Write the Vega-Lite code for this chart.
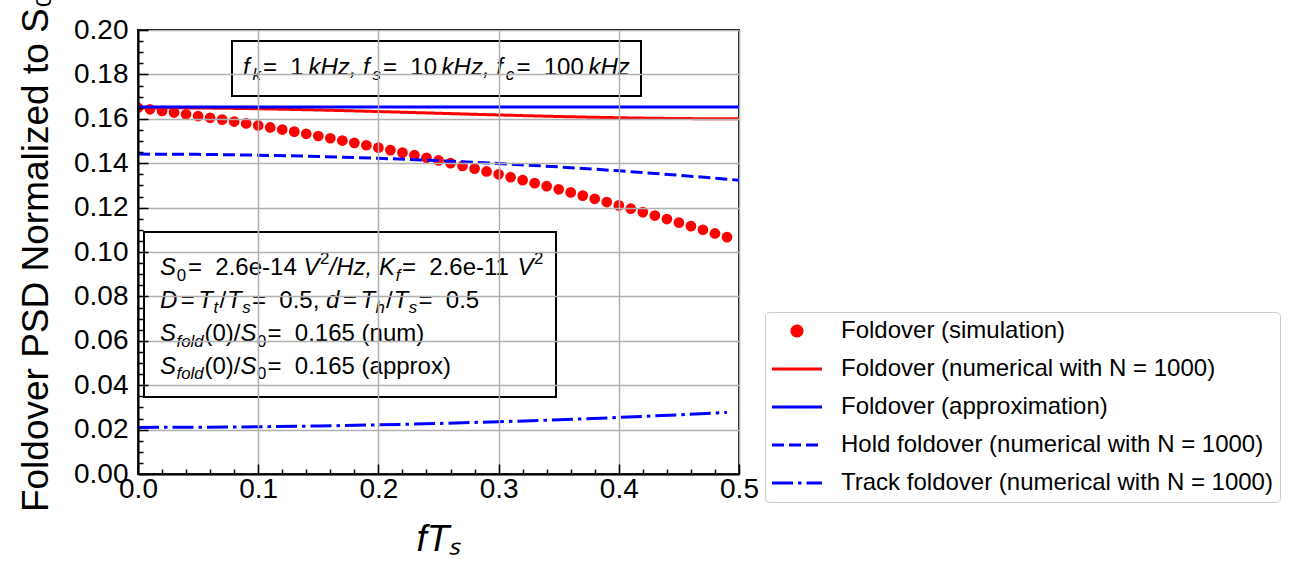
{
  "$schema": "https://vega.github.io/schema/vega-lite/v6.json",
  "width": 601,
  "height": 444,
  "autosize": {"type": "none"},
  "padding": {"left": 138, "top": 30, "right": 558, "bottom": 109},
  "background": "white",
  "config": {
    "font": "Liberation Sans",
    "view": {"stroke": "black", "strokeWidth": 2},
    "axis": {
      "labelFont": "Liberation Sans", "labelFontSize": 28, "labelColor": "black",
      "tickColor": "black", "tickWidth": 1.5, "tickSize": -10,
      "gridColor": "#b0b0b0", "gridWidth": 1.5,
      "domainColor": "black", "domainWidth": 2,
      "titleFont": "Liberation Sans", "titleFontSize": 37, "titleFontWeight": "normal", "titleColor": "black",
      "labelFlush": false, "labelOverlap": false
    },
    "legend": {
      "orient": "none", "legendX": 627, "legendY": 282,
      "labelFont": "Liberation Sans", "labelFontSize": 24, "labelColor": "black", "labelLimit": 600,
      "labelOffset": 45, "rowPadding": 14, "padding": 7,
      "fillColor": "white", "strokeColor": "#cccccc", "cornerRadius": 4,
      "symbolSize": 100, "symbolStrokeWidth": 3, "symbolOpacity": 1
    }
  },
  "datasets": {
    "one": [{}],
    "curves": [
      {"series": "Foldover (simulation)", "x": 0.00, "y": 0.16500}, {"series": "Foldover (simulation)", "x": 0.01, "y": 0.16429},
      {"series": "Foldover (simulation)", "x": 0.02, "y": 0.16356}, {"series": "Foldover (simulation)", "x": 0.03, "y": 0.16281},
      {"series": "Foldover (simulation)", "x": 0.04, "y": 0.16204}, {"series": "Foldover (simulation)", "x": 0.05, "y": 0.16125},
      {"series": "Foldover (simulation)", "x": 0.06, "y": 0.16044}, {"series": "Foldover (simulation)", "x": 0.07, "y": 0.15961},
      {"series": "Foldover (simulation)", "x": 0.08, "y": 0.15876}, {"series": "Foldover (simulation)", "x": 0.09, "y": 0.15789},
      {"series": "Foldover (simulation)", "x": 0.10, "y": 0.15700}, {"series": "Foldover (simulation)", "x": 0.11, "y": 0.15609},
      {"series": "Foldover (simulation)", "x": 0.12, "y": 0.15516}, {"series": "Foldover (simulation)", "x": 0.13, "y": 0.15421},
      {"series": "Foldover (simulation)", "x": 0.14, "y": 0.15324}, {"series": "Foldover (simulation)", "x": 0.15, "y": 0.15225},
      {"series": "Foldover (simulation)", "x": 0.16, "y": 0.15124}, {"series": "Foldover (simulation)", "x": 0.17, "y": 0.15021},
      {"series": "Foldover (simulation)", "x": 0.18, "y": 0.14916}, {"series": "Foldover (simulation)", "x": 0.19, "y": 0.14809},
      {"series": "Foldover (simulation)", "x": 0.20, "y": 0.14700}, {"series": "Foldover (simulation)", "x": 0.21, "y": 0.14589},
      {"series": "Foldover (simulation)", "x": 0.22, "y": 0.14476}, {"series": "Foldover (simulation)", "x": 0.23, "y": 0.14361},
      {"series": "Foldover (simulation)", "x": 0.24, "y": 0.14244}, {"series": "Foldover (simulation)", "x": 0.25, "y": 0.14125},
      {"series": "Foldover (simulation)", "x": 0.26, "y": 0.14004}, {"series": "Foldover (simulation)", "x": 0.27, "y": 0.13881},
      {"series": "Foldover (simulation)", "x": 0.28, "y": 0.13756}, {"series": "Foldover (simulation)", "x": 0.29, "y": 0.13629},
      {"series": "Foldover (simulation)", "x": 0.30, "y": 0.13500}, {"series": "Foldover (simulation)", "x": 0.31, "y": 0.13369},
      {"series": "Foldover (simulation)", "x": 0.32, "y": 0.13236}, {"series": "Foldover (simulation)", "x": 0.33, "y": 0.13101},
      {"series": "Foldover (simulation)", "x": 0.34, "y": 0.12964}, {"series": "Foldover (simulation)", "x": 0.35, "y": 0.12825},
      {"series": "Foldover (simulation)", "x": 0.36, "y": 0.12684}, {"series": "Foldover (simulation)", "x": 0.37, "y": 0.12541},
      {"series": "Foldover (simulation)", "x": 0.38, "y": 0.12396}, {"series": "Foldover (simulation)", "x": 0.39, "y": 0.12249},
      {"series": "Foldover (simulation)", "x": 0.40, "y": 0.12100}, {"series": "Foldover (simulation)", "x": 0.41, "y": 0.11949},
      {"series": "Foldover (simulation)", "x": 0.42, "y": 0.11796}, {"series": "Foldover (simulation)", "x": 0.43, "y": 0.11641},
      {"series": "Foldover (simulation)", "x": 0.44, "y": 0.11484}, {"series": "Foldover (simulation)", "x": 0.45, "y": 0.11325},
      {"series": "Foldover (simulation)", "x": 0.46, "y": 0.11164}, {"series": "Foldover (simulation)", "x": 0.47, "y": 0.11001},
      {"series": "Foldover (simulation)", "x": 0.48, "y": 0.10836}, {"series": "Foldover (simulation)", "x": 0.49, "y": 0.10669},
      {"series": "Foldover (numerical with N = 1000)", "x": 0.000, "y": 0.16500}, {"series": "Foldover (numerical with N = 1000)", "x": 0.025, "y": 0.16497},
      {"series": "Foldover (numerical with N = 1000)", "x": 0.050, "y": 0.16488}, {"series": "Foldover (numerical with N = 1000)", "x": 0.075, "y": 0.16473},
      {"series": "Foldover (numerical with N = 1000)", "x": 0.100, "y": 0.16452}, {"series": "Foldover (numerical with N = 1000)", "x": 0.125, "y": 0.16427},
      {"series": "Foldover (numerical with N = 1000)", "x": 0.150, "y": 0.16397}, {"series": "Foldover (numerical with N = 1000)", "x": 0.175, "y": 0.16364},
      {"series": "Foldover (numerical with N = 1000)", "x": 0.200, "y": 0.16327}, {"series": "Foldover (numerical with N = 1000)", "x": 0.225, "y": 0.16289},
      {"series": "Foldover (numerical with N = 1000)", "x": 0.250, "y": 0.16250}, {"series": "Foldover (numerical with N = 1000)", "x": 0.275, "y": 0.16211},
      {"series": "Foldover (numerical with N = 1000)", "x": 0.300, "y": 0.16173}, {"series": "Foldover (numerical with N = 1000)", "x": 0.325, "y": 0.16137},
      {"series": "Foldover (numerical with N = 1000)", "x": 0.350, "y": 0.16103}, {"series": "Foldover (numerical with N = 1000)", "x": 0.375, "y": 0.16073},
      {"series": "Foldover (numerical with N = 1000)", "x": 0.400, "y": 0.16048}, {"series": "Foldover (numerical with N = 1000)", "x": 0.425, "y": 0.16027},
      {"series": "Foldover (numerical with N = 1000)", "x": 0.450, "y": 0.16012}, {"series": "Foldover (numerical with N = 1000)", "x": 0.475, "y": 0.16003},
      {"series": "Foldover (numerical with N = 1000)", "x": 0.500, "y": 0.16000},
      {"series": "Foldover (approximation)", "x": 0.0, "y": 0.1653}, {"series": "Foldover (approximation)", "x": 0.5, "y": 0.1653},
      {"series": "Hold foldover (numerical with N = 1000)", "x": 0.00, "y": 0.14410}, {"series": "Hold foldover (numerical with N = 1000)", "x": 0.05, "y": 0.14398},
      {"series": "Hold foldover (numerical with N = 1000)", "x": 0.10, "y": 0.14363}, {"series": "Hold foldover (numerical with N = 1000)", "x": 0.15, "y": 0.14304},
      {"series": "Hold foldover (numerical with N = 1000)", "x": 0.20, "y": 0.14222}, {"series": "Hold foldover (numerical with N = 1000)", "x": 0.25, "y": 0.14116},
      {"series": "Hold foldover (numerical with N = 1000)", "x": 0.30, "y": 0.13987}, {"series": "Hold foldover (numerical with N = 1000)", "x": 0.35, "y": 0.13834},
      {"series": "Hold foldover (numerical with N = 1000)", "x": 0.40, "y": 0.13658}, {"series": "Hold foldover (numerical with N = 1000)", "x": 0.45, "y": 0.13458},
      {"series": "Hold foldover (numerical with N = 1000)", "x": 0.50, "y": 0.13235},
      {"series": "Track foldover (numerical with N = 1000)", "x": 0.00, "y": 0.02100}, {"series": "Track foldover (numerical with N = 1000)", "x": 0.05, "y": 0.02107},
      {"series": "Track foldover (numerical with N = 1000)", "x": 0.10, "y": 0.02128}, {"series": "Track foldover (numerical with N = 1000)", "x": 0.15, "y": 0.02163},
      {"series": "Track foldover (numerical with N = 1000)", "x": 0.20, "y": 0.02212}, {"series": "Track foldover (numerical with N = 1000)", "x": 0.25, "y": 0.02275},
      {"series": "Track foldover (numerical with N = 1000)", "x": 0.30, "y": 0.02352}, {"series": "Track foldover (numerical with N = 1000)", "x": 0.35, "y": 0.02443},
      {"series": "Track foldover (numerical with N = 1000)", "x": 0.40, "y": 0.02548}, {"series": "Track foldover (numerical with N = 1000)", "x": 0.45, "y": 0.02667},
      {"series": "Track foldover (numerical with N = 1000)", "x": 0.49, "y": 0.02772}
    ]
  },
  "layer": [
    {
      "data": {"name": "curves"},
      "transform": [{"filter": "datum.series === 'Foldover (simulation)'"}],
      "mark": {"type": "point", "shape": "circle", "size": 115, "filled": true, "opacity": 1, "clip": true},
      "encoding": {
        "x": {
          "field": "x", "type": "quantitative",
          "scale": {"domain": [0, 0.5], "nice": false, "zero": false},
          "axis": {
            "values": [0, 0.1, 0.2, 0.3, 0.4, 0.5], "format": ".1f", "labelPadding": 11,
            "title": "fTₛ", "titleFontStyle": "italic", "titleX": 300.5, "titleY": 76,
            "titleBaseline": "alphabetic", "titleAlign": "center", "zindex": 1
          }
        },
        "y": {
          "field": "y", "type": "quantitative",
          "scale": {"domain": [0, 0.2], "nice": false, "zero": false},
          "axis": {
            "values": [0, 0.02, 0.04, 0.06, 0.08, 0.1, 0.12, 0.14, 0.16, 0.18, 0.2],
            "format": ".2f", "labelPadding": 20,
            "title": "Foldover PSD Normalized to S₀", "titleX": -91, "titleY": 222, "titleAngle": -90,
            "titleBaseline": "alphabetic", "titleAlign": "center", "zindex": 1
          }
        },
        "color": {
          "field": "series", "type": "nominal",
          "scale": {
            "domain": ["Foldover (simulation)", "Foldover (numerical with N = 1000)", "Foldover (approximation)", "Hold foldover (numerical with N = 1000)", "Track foldover (numerical with N = 1000)"],
            "range": ["#ff0000", "#ff0000", "#0000ff", "#0000ff", "#0000ff"]
          },
          "legend": {"title": null}
        }
      }
    },
    {
      "data": {"name": "curves"},
      "transform": [{"filter": "datum.series !== 'Foldover (simulation)'"}],
      "mark": {"type": "line", "strokeWidth": 3, "clip": true},
      "encoding": {
        "x": {"field": "x", "type": "quantitative", "axis": null},
        "y": {"field": "y", "type": "quantitative", "axis": null},
        "color": {"field": "series", "type": "nominal", "legend": {"title": null}},
        "strokeDash": {
          "field": "series", "type": "nominal",
          "scale": {
            "domain": ["Foldover (simulation)", "Foldover (numerical with N = 1000)", "Foldover (approximation)", "Hold foldover (numerical with N = 1000)", "Track foldover (numerical with N = 1000)"],
            "range": [[1, 0], [1, 0], [1, 0], [12, 5], [21, 5, 3.5, 5]]
          },
          "legend": {"title": null}
        }
      }
    },
    {
      "data": {"name": "curves"},
      "transform": [{"filter": "datum.x < 0"}],
      "mark": {"type": "point", "filled": true, "size": 100},
      "encoding": {
        "x": {"field": "x", "type": "quantitative", "axis": null},
        "y": {"field": "y", "type": "quantitative", "axis": null},
        "color": {"field": "series", "type": "nominal", "legend": {"title": null}},
        "shape": {
          "field": "series", "type": "nominal",
          "scale": {
            "domain": ["Foldover (simulation)", "Foldover (numerical with N = 1000)", "Foldover (approximation)", "Hold foldover (numerical with N = 1000)", "Track foldover (numerical with N = 1000)"],
            "range": ["M1.6,0A1,1 0 1,1 3.6,0A1,1 0 1,1 1.6,0Z", "M-2.4,0L7.6,0", "M-2.4,0L7.6,0", "M-2.4,0L7.6,0", "M-2.4,0L7.6,0"]
          },
          "legend": {"title": null}
        }
      }
    },
    {
      "data": {"name": "one"},
      "mark": {"type": "rect", "fill": "white", "stroke": "black", "strokeWidth": 2},
      "encoding": {
        "x": {"datum": 0.0782, "type": "quantitative", "axis": null}, "x2": {"datum": 0.41847},
        "y": {"datum": 0.19505, "type": "quantitative", "axis": null}, "y2": {"datum": 0.17027}
      }
    },
    {
      "data": {"name": "one"},
      "mark": {"type": "rect", "fill": "white", "stroke": "black", "strokeWidth": 2},
      "encoding": {
        "x": {"datum": 0.00499, "type": "quantitative", "axis": null}, "x2": {"datum": 0.34775},
        "y": {"datum": 0.10901, "type": "quantitative", "axis": null}, "y2": {"datum": 0.03468}
      }
    },
    {"data": {"name": "one"}, "mark": {"type": "text", "text": "f", "align": "left", "baseline": "alphabetic", "fontSize": 24, "fontStyle": "italic", "color": "black"}, "encoding": {"x": {"datum": 0.08735, "type": "quantitative", "axis": null}, "y": {"datum": 0.17995, "type": "quantitative", "axis": null}}},
    {"data": {"name": "one"}, "mark": {"type": "text", "text": "k", "align": "left", "baseline": "alphabetic", "fontSize": 16.8, "fontStyle": "italic", "color": "black"}, "encoding": {"x": {"datum": 0.09526, "type": "quantitative", "axis": null}, "y": {"datum": 0.17770, "type": "quantitative", "axis": null}}},
    {"data": {"name": "one"}, "mark": {"type": "text", "text": "=\u00a0\u00a01", "align": "left", "baseline": "alphabetic", "fontSize": 24, "color": "black"}, "encoding": {"x": {"datum": 0.10399, "type": "quantitative", "axis": null}, "y": {"datum": 0.17995, "type": "quantitative", "axis": null}}},
    {"data": {"name": "one"}, "mark": {"type": "text", "text": "kHz,", "align": "left", "baseline": "alphabetic", "fontSize": 24, "fontStyle": "italic", "color": "black"}, "encoding": {"x": {"datum": 0.14176, "type": "quantitative", "axis": null}, "y": {"datum": 0.17995, "type": "quantitative", "axis": null}}},
    {"data": {"name": "one"}, "mark": {"type": "text", "text": "f", "align": "left", "baseline": "alphabetic", "fontSize": 24, "fontStyle": "italic", "color": "black"}, "encoding": {"x": {"datum": 0.18719, "type": "quantitative", "axis": null}, "y": {"datum": 0.17995, "type": "quantitative", "axis": null}}},
    {"data": {"name": "one"}, "mark": {"type": "text", "text": "s", "align": "left", "baseline": "alphabetic", "fontSize": 16.8, "fontStyle": "italic", "color": "black"}, "encoding": {"x": {"datum": 0.19509, "type": "quantitative", "axis": null}, "y": {"datum": 0.17770, "type": "quantitative", "axis": null}}},
    {"data": {"name": "one"}, "mark": {"type": "text", "text": "=\u00a0\u00a010", "align": "left", "baseline": "alphabetic", "fontSize": 24, "color": "black"}, "encoding": {"x": {"datum": 0.20382, "type": "quantitative", "axis": null}, "y": {"datum": 0.17995, "type": "quantitative", "axis": null}}},
    {"data": {"name": "one"}, "mark": {"type": "text", "text": "kHz,", "align": "left", "baseline": "alphabetic", "fontSize": 24, "fontStyle": "italic", "color": "black"}, "encoding": {"x": {"datum": 0.25258, "type": "quantitative", "axis": null}, "y": {"datum": 0.17995, "type": "quantitative", "axis": null}}},
    {"data": {"name": "one"}, "mark": {"type": "text", "text": "f", "align": "left", "baseline": "alphabetic", "fontSize": 24, "fontStyle": "italic", "color": "black"}, "encoding": {"x": {"datum": 0.29809, "type": "quantitative", "axis": null}, "y": {"datum": 0.17995, "type": "quantitative", "axis": null}}},
    {"data": {"name": "one"}, "mark": {"type": "text", "text": "c", "align": "left", "baseline": "alphabetic", "fontSize": 16.8, "fontStyle": "italic", "color": "black"}, "encoding": {"x": {"datum": 0.30599, "type": "quantitative", "axis": null}, "y": {"datum": 0.17770, "type": "quantitative", "axis": null}}},
    {"data": {"name": "one"}, "mark": {"type": "text", "text": "=\u00a0\u00a0100", "align": "left", "baseline": "alphabetic", "fontSize": 24, "color": "black"}, "encoding": {"x": {"datum": 0.31480, "type": "quantitative", "axis": null}, "y": {"datum": 0.17995, "type": "quantitative", "axis": null}}},
    {"data": {"name": "one"}, "mark": {"type": "text", "text": "kHz", "align": "left", "baseline": "alphabetic", "fontSize": 24, "fontStyle": "italic", "color": "black"}, "encoding": {"x": {"datum": 0.37471, "type": "quantitative", "axis": null}, "y": {"datum": 0.17995, "type": "quantitative", "axis": null}}},

    {"data": {"name": "one"}, "mark": {"type": "text", "text": "S", "align": "left", "baseline": "alphabetic", "fontSize": 24, "fontStyle": "italic", "color": "black"}, "encoding": {"x": {"datum": 0.01830, "type": "quantitative", "axis": null}, "y": {"datum": 0.08964, "type": "quantitative", "axis": null}}},
    {"data": {"name": "one"}, "mark": {"type": "text", "text": "0", "align": "left", "baseline": "alphabetic", "fontSize": 16.8, "color": "black"}, "encoding": {"x": {"datum": 0.03228, "type": "quantitative", "axis": null}, "y": {"datum": 0.08716, "type": "quantitative", "axis": null}}},
    {"data": {"name": "one"}, "mark": {"type": "text", "text": "=\u00a0\u00a02.6e-14", "align": "left", "baseline": "alphabetic", "fontSize": 24, "color": "black"}, "encoding": {"x": {"datum": 0.04160, "type": "quantitative", "axis": null}, "y": {"datum": 0.08964, "type": "quantitative", "axis": null}}},
    {"data": {"name": "one"}, "mark": {"type": "text", "text": "V", "align": "left", "baseline": "alphabetic", "fontSize": 24, "fontStyle": "italic", "color": "black"}, "encoding": {"x": {"datum": 0.13760, "type": "quantitative", "axis": null}, "y": {"datum": 0.08964, "type": "quantitative", "axis": null}}},
    {"data": {"name": "one"}, "mark": {"type": "text", "text": "2", "align": "left", "baseline": "alphabetic", "fontSize": 16.8, "color": "black"}, "encoding": {"x": {"datum": 0.15141, "type": "quantitative", "axis": null}, "y": {"datum": 0.09459, "type": "quantitative", "axis": null}}},
    {"data": {"name": "one"}, "mark": {"type": "text", "text": "/Hz,", "align": "left", "baseline": "alphabetic", "fontSize": 24, "fontStyle": "italic", "color": "black"}, "encoding": {"x": {"datum": 0.15932, "type": "quantitative", "axis": null}, "y": {"datum": 0.08964, "type": "quantitative", "axis": null}}},
    {"data": {"name": "one"}, "mark": {"type": "text", "text": "K", "align": "left", "baseline": "alphabetic", "fontSize": 24, "fontStyle": "italic", "color": "black"}, "encoding": {"x": {"datum": 0.20042, "type": "quantitative", "axis": null}, "y": {"datum": 0.08964, "type": "quantitative", "axis": null}}},
    {"data": {"name": "one"}, "mark": {"type": "text", "text": "f", "align": "left", "baseline": "alphabetic", "fontSize": 16.8, "fontStyle": "italic", "color": "black"}, "encoding": {"x": {"datum": 0.21448, "type": "quantitative", "axis": null}, "y": {"datum": 0.08716, "type": "quantitative", "axis": null}}},
    {"data": {"name": "one"}, "mark": {"type": "text", "text": "=\u00a0\u00a02.6e-11", "align": "left", "baseline": "alphabetic", "fontSize": 24, "color": "black"}, "encoding": {"x": {"datum": 0.21963, "type": "quantitative", "axis": null}, "y": {"datum": 0.08964, "type": "quantitative", "axis": null}}},
    {"data": {"name": "one"}, "mark": {"type": "text", "text": "V", "align": "left", "baseline": "alphabetic", "fontSize": 24, "fontStyle": "italic", "color": "black"}, "encoding": {"x": {"datum": 0.31564, "type": "quantitative", "axis": null}, "y": {"datum": 0.08964, "type": "quantitative", "axis": null}}},
    {"data": {"name": "one"}, "mark": {"type": "text", "text": "2", "align": "left", "baseline": "alphabetic", "fontSize": 16.8, "color": "black"}, "encoding": {"x": {"datum": 0.32945, "type": "quantitative", "axis": null}, "y": {"datum": 0.09459, "type": "quantitative", "axis": null}}},

    {"data": {"name": "one"}, "mark": {"type": "text", "text": "D", "align": "left", "baseline": "alphabetic", "fontSize": 24, "fontStyle": "italic", "color": "black"}, "encoding": {"x": {"datum": 0.01830, "type": "quantitative", "axis": null}, "y": {"datum": 0.07477, "type": "quantitative", "axis": null}}},
    {"data": {"name": "one"}, "mark": {"type": "text", "text": "=", "align": "left", "baseline": "alphabetic", "fontSize": 24, "color": "black"}, "encoding": {"x": {"datum": 0.03561, "type": "quantitative", "axis": null}, "y": {"datum": 0.07477, "type": "quantitative", "axis": null}}},
    {"data": {"name": "one"}, "mark": {"type": "text", "text": "T", "align": "left", "baseline": "alphabetic", "fontSize": 24, "fontStyle": "italic", "color": "black"}, "encoding": {"x": {"datum": 0.05017, "type": "quantitative", "axis": null}, "y": {"datum": 0.07477, "type": "quantitative", "axis": null}}},
    {"data": {"name": "one"}, "mark": {"type": "text", "text": "t", "align": "left", "baseline": "alphabetic", "fontSize": 16.8, "fontStyle": "italic", "color": "black"}, "encoding": {"x": {"datum": 0.06281, "type": "quantitative", "axis": null}, "y": {"datum": 0.07230, "type": "quantitative", "axis": null}}},
    {"data": {"name": "one"}, "mark": {"type": "text", "text": "/", "align": "left", "baseline": "alphabetic", "fontSize": 24, "color": "black"}, "encoding": {"x": {"datum": 0.06780, "type": "quantitative", "axis": null}, "y": {"datum": 0.07477, "type": "quantitative", "axis": null}}},
    {"data": {"name": "one"}, "mark": {"type": "text", "text": "T", "align": "left", "baseline": "alphabetic", "fontSize": 24, "fontStyle": "italic", "color": "black"}, "encoding": {"x": {"datum": 0.07404, "type": "quantitative", "axis": null}, "y": {"datum": 0.07477, "type": "quantitative", "axis": null}}},
    {"data": {"name": "one"}, "mark": {"type": "text", "text": "s", "align": "left", "baseline": "alphabetic", "fontSize": 16.8, "fontStyle": "italic", "color": "black"}, "encoding": {"x": {"datum": 0.08669, "type": "quantitative", "axis": null}, "y": {"datum": 0.07230, "type": "quantitative", "axis": null}}},
    {"data": {"name": "one"}, "mark": {"type": "text", "text": "=\u00a0\u00a00.5,", "align": "left", "baseline": "alphabetic", "fontSize": 24, "color": "black"}, "encoding": {"x": {"datum": 0.09484, "type": "quantitative", "axis": null}, "y": {"datum": 0.07477, "type": "quantitative", "axis": null}}},
    {"data": {"name": "one"}, "mark": {"type": "text", "text": "d", "align": "left", "baseline": "alphabetic", "fontSize": 24, "fontStyle": "italic", "color": "black"}, "encoding": {"x": {"datum": 0.15641, "type": "quantitative", "axis": null}, "y": {"datum": 0.07477, "type": "quantitative", "axis": null}}},
    {"data": {"name": "one"}, "mark": {"type": "text", "text": "=", "align": "left", "baseline": "alphabetic", "fontSize": 24, "color": "black"}, "encoding": {"x": {"datum": 0.17047, "type": "quantitative", "axis": null}, "y": {"datum": 0.07477, "type": "quantitative", "axis": null}}},
    {"data": {"name": "one"}, "mark": {"type": "text", "text": "T", "align": "left", "baseline": "alphabetic", "fontSize": 24, "fontStyle": "italic", "color": "black"}, "encoding": {"x": {"datum": 0.18502, "type": "quantitative", "axis": null}, "y": {"datum": 0.07477, "type": "quantitative", "axis": null}}},
    {"data": {"name": "one"}, "mark": {"type": "text", "text": "h", "align": "left", "baseline": "alphabetic", "fontSize": 16.8, "fontStyle": "italic", "color": "black"}, "encoding": {"x": {"datum": 0.19767, "type": "quantitative", "axis": null}, "y": {"datum": 0.07230, "type": "quantitative", "axis": null}}},
    {"data": {"name": "one"}, "mark": {"type": "text", "text": "/", "align": "left", "baseline": "alphabetic", "fontSize": 24, "color": "black"}, "encoding": {"x": {"datum": 0.20632, "type": "quantitative", "axis": null}, "y": {"datum": 0.07477, "type": "quantitative", "axis": null}}},
    {"data": {"name": "one"}, "mark": {"type": "text", "text": "T", "align": "left", "baseline": "alphabetic", "fontSize": 24, "fontStyle": "italic", "color": "black"}, "encoding": {"x": {"datum": 0.21256, "type": "quantitative", "axis": null}, "y": {"datum": 0.07477, "type": "quantitative", "axis": null}}},
    {"data": {"name": "one"}, "mark": {"type": "text", "text": "s", "align": "left", "baseline": "alphabetic", "fontSize": 16.8, "fontStyle": "italic", "color": "black"}, "encoding": {"x": {"datum": 0.22521, "type": "quantitative", "axis": null}, "y": {"datum": 0.07230, "type": "quantitative", "axis": null}}},
    {"data": {"name": "one"}, "mark": {"type": "text", "text": "=\u00a0\u00a00.5", "align": "left", "baseline": "alphabetic", "fontSize": 24, "color": "black"}, "encoding": {"x": {"datum": 0.23336, "type": "quantitative", "axis": null}, "y": {"datum": 0.07477, "type": "quantitative", "axis": null}}},

    {"data": {"name": "one"}, "mark": {"type": "text", "text": "S", "align": "left", "baseline": "alphabetic", "fontSize": 24, "fontStyle": "italic", "color": "black"}, "encoding": {"x": {"datum": 0.01830, "type": "quantitative", "axis": null}, "y": {"datum": 0.05991, "type": "quantitative", "axis": null}}},
    {"data": {"name": "one"}, "mark": {"type": "text", "text": "fold", "align": "left", "baseline": "alphabetic", "fontSize": 16.8, "fontStyle": "italic", "color": "black"}, "encoding": {"x": {"datum": 0.03203, "type": "quantitative", "axis": null}, "y": {"datum": 0.05743, "type": "quantitative", "axis": null}}},
    {"data": {"name": "one"}, "mark": {"type": "text", "text": "(0)/", "align": "left", "baseline": "alphabetic", "fontSize": 24, "color": "black"}, "encoding": {"x": {"datum": 0.05532, "type": "quantitative", "axis": null}, "y": {"datum": 0.05991, "type": "quantitative", "axis": null}}},
    {"data": {"name": "one"}, "mark": {"type": "text", "text": "S", "align": "left", "baseline": "alphabetic", "fontSize": 24, "fontStyle": "italic", "color": "black"}, "encoding": {"x": {"datum": 0.08527, "type": "quantitative", "axis": null}, "y": {"datum": 0.05991, "type": "quantitative", "axis": null}}},
    {"data": {"name": "one"}, "mark": {"type": "text", "text": "0", "align": "left", "baseline": "alphabetic", "fontSize": 16.8, "color": "black"}, "encoding": {"x": {"datum": 0.09900, "type": "quantitative", "axis": null}, "y": {"datum": 0.05743, "type": "quantitative", "axis": null}}},
    {"data": {"name": "one"}, "mark": {"type": "text", "text": "=\u00a0\u00a00.165 (num)", "align": "left", "baseline": "alphabetic", "fontSize": 24, "color": "black"}, "encoding": {"x": {"datum": 0.10774, "type": "quantitative", "axis": null}, "y": {"datum": 0.05991, "type": "quantitative", "axis": null}}},

    {"data": {"name": "one"}, "mark": {"type": "text", "text": "S", "align": "left", "baseline": "alphabetic", "fontSize": 24, "fontStyle": "italic", "color": "black"}, "encoding": {"x": {"datum": 0.01830, "type": "quantitative", "axis": null}, "y": {"datum": 0.04505, "type": "quantitative", "axis": null}}},
    {"data": {"name": "one"}, "mark": {"type": "text", "text": "fold", "align": "left", "baseline": "alphabetic", "fontSize": 16.8, "fontStyle": "italic", "color": "black"}, "encoding": {"x": {"datum": 0.03203, "type": "quantitative", "axis": null}, "y": {"datum": 0.04257, "type": "quantitative", "axis": null}}},
    {"data": {"name": "one"}, "mark": {"type": "text", "text": "(0)/", "align": "left", "baseline": "alphabetic", "fontSize": 24, "color": "black"}, "encoding": {"x": {"datum": 0.05532, "type": "quantitative", "axis": null}, "y": {"datum": 0.04505, "type": "quantitative", "axis": null}}},
    {"data": {"name": "one"}, "mark": {"type": "text", "text": "S", "align": "left", "baseline": "alphabetic", "fontSize": 24, "fontStyle": "italic", "color": "black"}, "encoding": {"x": {"datum": 0.08527, "type": "quantitative", "axis": null}, "y": {"datum": 0.04505, "type": "quantitative", "axis": null}}},
    {"data": {"name": "one"}, "mark": {"type": "text", "text": "0", "align": "left", "baseline": "alphabetic", "fontSize": 16.8, "color": "black"}, "encoding": {"x": {"datum": 0.09900, "type": "quantitative", "axis": null}, "y": {"datum": 0.04257, "type": "quantitative", "axis": null}}},
    {"data": {"name": "one"}, "mark": {"type": "text", "text": "=\u00a0\u00a00.165 (approx)", "align": "left", "baseline": "alphabetic", "fontSize": 24, "color": "black"}, "encoding": {"x": {"datum": 0.10774, "type": "quantitative", "axis": null}, "y": {"datum": 0.04505, "type": "quantitative", "axis": null}}},

    {
      "data": {"name": "curves"},
      "mark": {"type": "point", "opacity": 0},
      "encoding": {
        "x": {
          "field": "x", "type": "quantitative",
          "axis": {
            "orient": "bottom", "title": null, "labels": false, "domain": false, "grid": false,
            "tickSize": -5, "zindex": 1,
            "values": [0.02, 0.04, 0.06, 0.08, 0.12, 0.14, 0.16, 0.18, 0.22, 0.24, 0.26, 0.28, 0.32, 0.34, 0.36, 0.38, 0.42, 0.44, 0.46, 0.48]
          }
        },
        "y": {
          "field": "y", "type": "quantitative",
          "axis": {
            "orient": "left", "title": null, "labels": false, "domain": false, "grid": false,
            "tickSize": -5, "zindex": 1,
            "values": [0.005, 0.01, 0.015, 0.025, 0.03, 0.035, 0.045, 0.05, 0.055, 0.065, 0.07, 0.075, 0.085, 0.09, 0.095, 0.105, 0.11, 0.115, 0.125, 0.13, 0.135, 0.145, 0.15, 0.155, 0.165, 0.17, 0.175, 0.185, 0.19, 0.195]
          }
        }
      }
    }
  ],
  "resolve": {"axis": {"x": "independent", "y": "independent"}}
}
